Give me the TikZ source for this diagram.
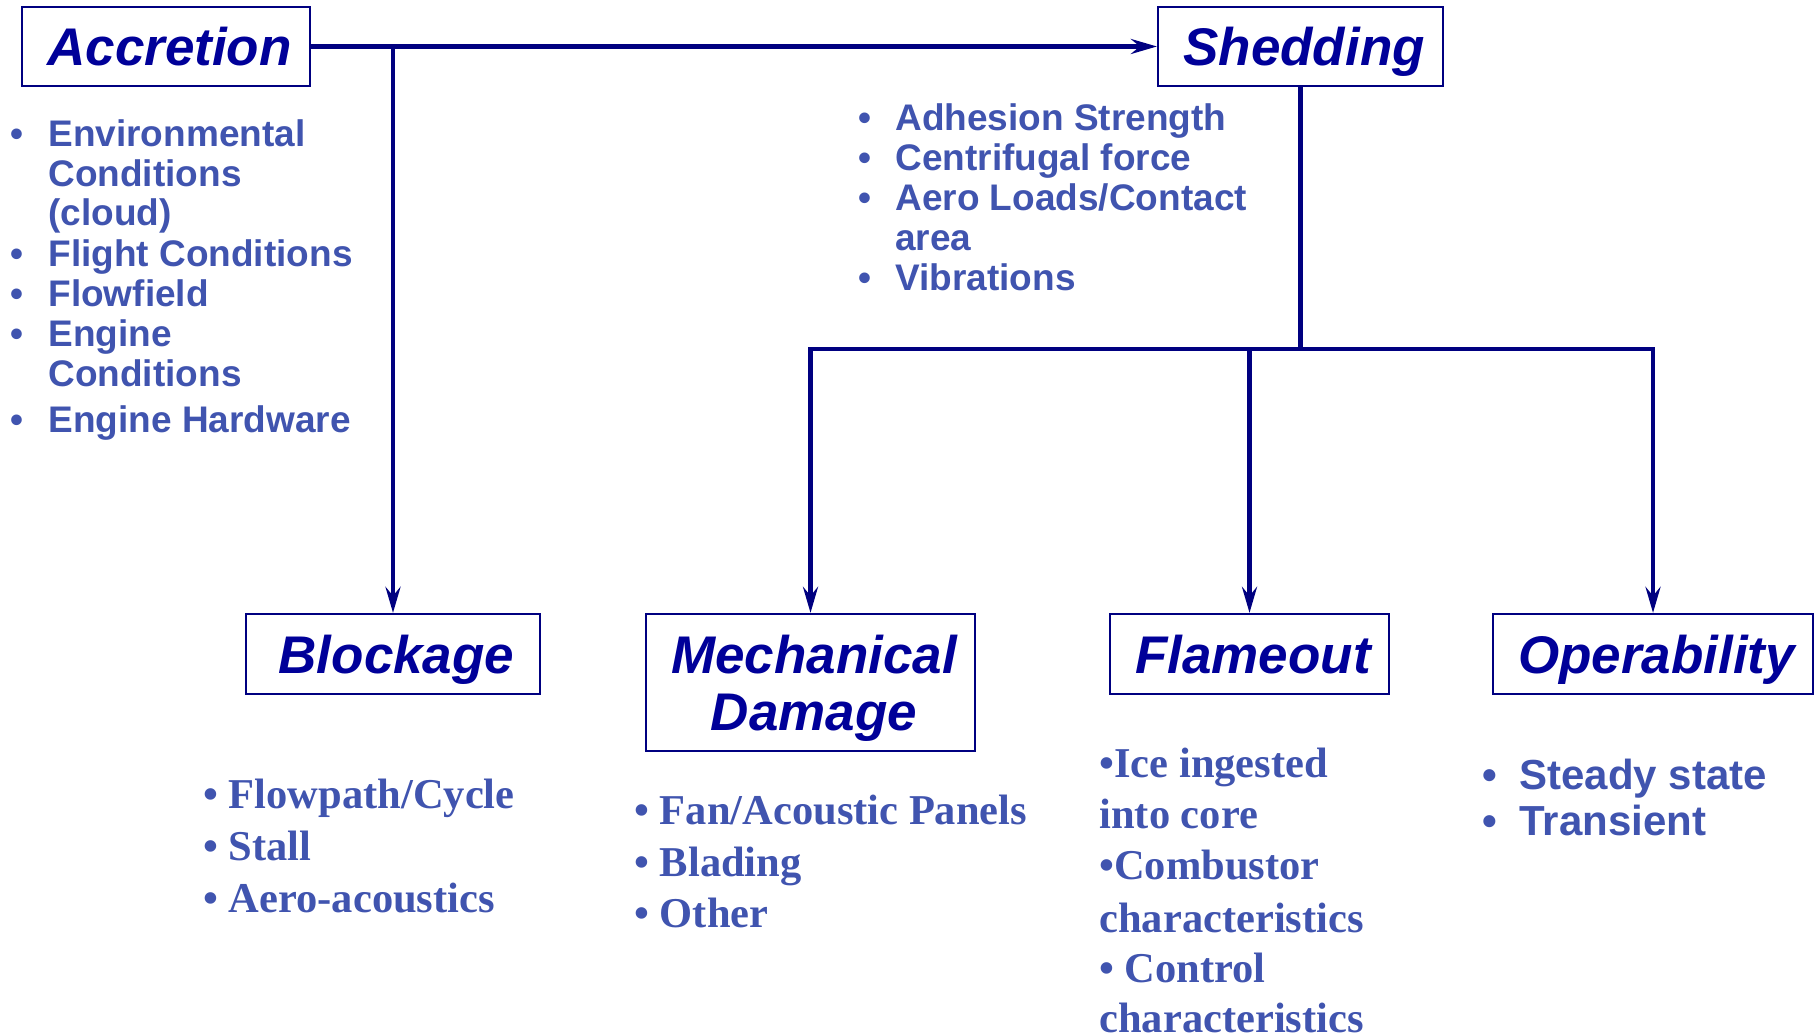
\documentclass[tikz,border=0pt]{standalone}
\usepackage{fontspec}
\setmainfont{Liberation Sans}
\newfontfamily\timesfont{Liberation Serif}
\usetikzlibrary{arrows.meta}
\definecolor{navy}{RGB}{0,0,128}
\definecolor{ttl}{RGB}{0,0,153}
\definecolor{bul}{RGB}{64,84,175}
\newcommand{\tsh}{\hspace*{3.5pt}}
\begin{document}
\begin{tikzpicture}[x=0.5pt,y=-0.5pt,
  box/.style={draw=navy,line width=1.1pt,inner sep=0pt,text=ttl,font=\fontsize{26.5}{28.5}\selectfont\bfseries\itshape},
  one/.style={text height=19pt,text depth=0pt},
  conn/.style={draw=navy,line width=2.2pt},
  arr/.style={conn,-{Stealth[length=13pt,width=7.5pt,inset=4.5pt]}},
  sb/.style={anchor=base west,inner sep=0pt,text=bul,font=\fontsize{18.5}{20}\selectfont\bfseries},
  tb/.style={anchor=base west,inner sep=0pt,text=bul,font=\timesfont\fontsize{21.25}{24}\selectfont\bfseries},
  ob/.style={anchor=base west,inner sep=0pt,text=bul,font=\fontsize{21}{23}\selectfont\bfseries}
]
\useasboundingbox (0,0) rectangle (1818,1036);

% boxes
\node[box,one,minimum width=144pt,minimum height=39.5pt] (acc) at (166,46.5) {\tsh Accretion};
\node[box,one,minimum width=142.5pt,minimum height=39.5pt] (shed) at (1300.5,46.5) {\tsh Shedding};
\node[box,one,minimum width=147pt,minimum height=40pt] (block) at (393,654) {\tsh Blockage};
\node[box,align=center,text depth=0pt,minimum width=164.5pt,minimum height=68.5pt] (mech) at (810.5,682.5) {\tsh Mechanical\\\tsh Damage};
\node[box,one,minimum width=139.5pt,minimum height=40pt] (flame) at (1249.5,654) {\tsh Flameout};
\node[box,one,minimum width=160pt,minimum height=40pt] (oper) at (1653,654) {\tsh Operability};

% connectors
\draw[arr] (acc.east) -- (shed.west);
\draw[arr] (acc.east -| block.north) -- (block.north);
\coordinate (barpt) at (0,349);
\coordinate (bar) at (shed.south |- barpt);
\draw[conn] (shed.south) -- (bar);
\draw[arr] (bar) -| (mech.north);
\draw[arr] (bar) -| (flame.north);
\draw[arr] (bar) -| (oper.north);

% Accretion list
\node[sb] (ab1) at (10,146.5) {•};
\node[sb] (at1) at (48,146.5) {Environmental};
\node[sb] (at2) at (48,186.5) {Conditions};
\node[sb] (at3) at (48,225.5) {(cloud)};
\node[sb] (ab2) at (10,266.5) {•};
\node[sb] (at4) at (48,266.5) {Flight Conditions};
\node[sb] (ab3) at (10,306.5) {•};
\node[sb] (at5) at (48,306.5) {Flowfield};
\node[sb] (ab4) at (10,346.5) {•};
\node[sb] (at6) at (48,346.5) {Engine};
\node[sb] (at7) at (48,386.5) {Conditions};
\node[sb] (ab5) at (10,433) {•};
\node[sb] (at8) at (48,433) {Engine Hardware};

% Shedding list
\node[sb] (sb1) at (858,130.5) {•};
\node[sb] (st1) at (895,130.5) {Adhesion Strength};
\node[sb] (sb2) at (858,170.5) {•};
\node[sb] (st2) at (895,170.5) {Centrifugal force};
\node[sb] (sb3) at (858,210.5) {•};
\node[sb] (st3) at (895,210.5) {Aero Loads/Contact};
\node[sb] (st4) at (895,250.5) {area};
\node[sb] (sb4) at (858,290.5) {•};
\node[sb] (st5) at (895,290.5) {Vibrations};

% Blockage list
\node[tb] (bt1) at (203,808) {• Flowpath/Cycle};
\node[tb] (bt2) at (203,860) {• Stall};
\node[tb] (bt3) at (203,912) {• Aero-acoustics};

% Mechanical damage list
\node[tb] (mt1) at (634,824) {• Fan/Acoustic Panels};
\node[tb] (mt2) at (634,876) {• Blading};
\node[tb] (mt3) at (634,927) {• Other};

% Flameout list
\node[tb] (ft1) at (1099,777) {•Ice ingested};
\node[tb] (ft2) at (1099,828) {into core};
\node[tb] (ft3) at (1099,879) {•Combustor};
\node[tb] (ft4) at (1099,932) {characteristics};
\node[tb] (ft5) at (1099,982) {• Control};
\node[tb] (ft6) at (1099,1032) {characteristics};

% Operability list
\node[ob] (ob1) at (1482,789) {•};
\node[ob] (ot1) at (1519,789) {Steady state};
\node[ob] (ob2) at (1482,835) {•};
\node[ob] (ot2) at (1519,835) {Transient};
\end{tikzpicture}
\end{document}
